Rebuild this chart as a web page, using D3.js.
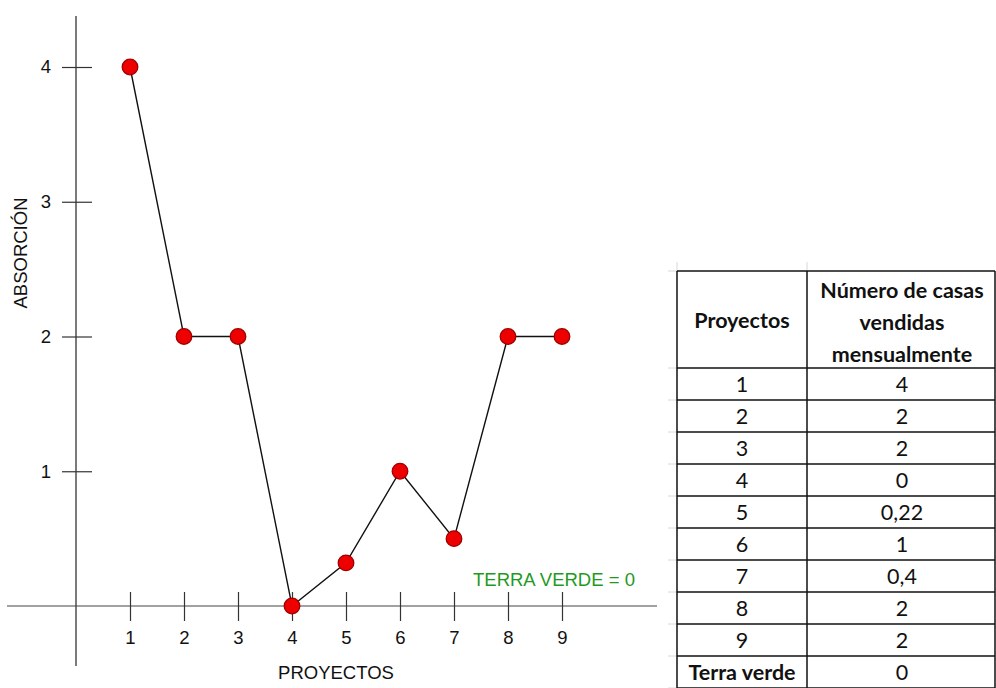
<!DOCTYPE html>
<html>
<head>
<meta charset="utf-8">
<script src="https://cdn.jsdelivr.net/npm/d3@7"></script>
<style>
  html, body { margin: 0; padding: 0; background: #fff; }
  svg { display: block; }
</style>
</head>
<body>
<svg id="chart" width="996" height="688"></svg>
<script>
// Projects on the x axis and their monthly absorption
const proyectos = [1, 2, 3, 4, 5, 6, 7, 8, 9];
const absorcion = [4, 2, 2, 0, 0.32, 1, 0.5, 2, 2];
const yTicks = [1, 2, 3, 4];
const xTicks = [1, 2, 3, 4, 5, 6, 7, 8, 9];

// Side table: rows of project name and houses sold per month
const tablaProyectos = ["1", "2", "3", "4", "5", "6", "7", "8", "9", "Terra verde"];
const tablaVentas = ["4", "2", "2", "0", "0,22", "1", "0,4", "2", "2", "0"];
const tablaEncabezado = ["Proyectos", ["Número de casas", "vendidas", "mensualmente"]];

const svg = d3.select("#chart");
const axisFont = "'Liberation Sans', Arial, sans-serif";
const tableFont = "Lato, 'Open Sans', sans-serif";

const x = d3.scaleLinear().domain([0, 9]).range([76, 562]);
const y = d3.scaleLinear().domain([0, 4]).range([606, 67]);

// Axis lines crossing at the origin
svg.append("line")
  .attr("x1", x(0)).attr("x2", x(0))
  .attr("y1", 16).attr("y2", 666)
  .attr("stroke", "#222").attr("stroke-width", 1.2);
svg.append("line")
  .attr("x1", 7).attr("x2", 657)
  .attr("y1", y(0)).attr("y2", y(0))
  .attr("stroke", "#444").attr("stroke-width", 1.2);

// Y axis ticks (crossing the axis line)
const gy = svg.append("g")
  .attr("transform", `translate(${x(0)},0)`)
  .call(d3.axisLeft(y).tickValues(yTicks).tickFormat(d3.format("d")).tickSize(14).tickPadding(12));
gy.select(".domain").remove();
gy.selectAll(".tick line").attr("x1", 16).attr("x2", -14).attr("stroke", "#333").attr("stroke-width", 1.2);
gy.selectAll(".tick text")
  .attr("x", -25)
  .attr("font-family", axisFont).attr("font-size", 18.5).attr("fill", "#111");

// X axis ticks (crossing the axis line)
const gx = svg.append("g")
  .attr("transform", `translate(0,${y(0)})`)
  .call(d3.axisBottom(x).tickValues(xTicks).tickFormat(d3.format("d")).tickSize(15));
gx.select(".domain").remove();
gx.selectAll(".tick line").attr("y1", -14).attr("y2", 15).attr("stroke", "#333").attr("stroke-width", 1.2);
gx.selectAll(".tick text")
  .attr("y", 25).attr("dy", "0.71em")
  .attr("font-family", axisFont).attr("font-size", 18.5).attr("fill", "#111");

// Axis titles
svg.append("text")
  .attr("x", 336).attr("y", 679)
  .attr("text-anchor", "middle")
  .attr("font-family", axisFont).attr("font-size", 18.5).attr("fill", "#111")
  .text("PROYECTOS");
svg.append("text")
  .attr("transform", "translate(27,253) rotate(-90)")
  .attr("text-anchor", "middle")
  .attr("font-family", axisFont).attr("font-size", 18.5).attr("fill", "#111")
  .text("ABSORCIÓN");

// Annotation for Terra Verde
svg.append("text")
  .attr("x", 473).attr("y", 586)
  .attr("font-family", axisFont).attr("font-size", 18.5).attr("fill", "#1f9a1f")
  .text("TERRA VERDE = 0");

// Line and markers
const pts = proyectos.map((p, i) => ({ p, v: absorcion[i] }));
svg.append("path")
  .datum(pts)
  .attr("fill", "none")
  .attr("stroke", "#111")
  .attr("stroke-width", 1.4)
  .attr("d", d3.line().x(d => x(d.p)).y(d => y(d.v)));
svg.selectAll("circle.pt")
  .data(pts)
  .join("circle")
  .attr("class", "pt")
  .attr("cx", d => x(d.p)).attr("cy", d => y(d.v))
  .attr("r", 7.8)
  .attr("fill", "#ee0000")
  .attr("stroke", "#a00000")
  .attr("stroke-width", 1.3);

// ----- Table -----
const tLeft = 677, tMid = 807, tRight = 995, tTop = 271, headBottom = 368, rowH = 32;
const rowLines = [tTop, headBottom].concat(tablaProyectos.map((_, i) => headBottom + rowH * (i + 1)));

// faint spreadsheet gridline stubs outside the table
const stubs = svg.append("g").attr("stroke", "#d8d8d8").attr("stroke-width", 1);
rowLines.forEach(ly => stubs.append("line").attr("x1", 668).attr("x2", tLeft).attr("y1", ly).attr("y2", ly));
[tLeft, tMid].forEach(lx => stubs.append("line").attr("x1", lx).attr("x2", lx).attr("y1", 262).attr("y2", tTop));

const tbl = svg.append("g").attr("stroke", "#111").attr("stroke-width", 1.5);
rowLines.forEach(ly => tbl.append("line").attr("x1", tLeft).attr("x2", tRight).attr("y1", ly).attr("y2", ly));
[tLeft, tMid, tRight].forEach(lx => tbl.append("line").attr("x1", lx).attr("x2", lx).attr("y1", tTop).attr("y2", 688));

const c1 = (tLeft + tMid) / 2, c2 = (tMid + tRight) / 2 + 1;
const tSize = 21.5;
svg.append("text")
  .attr("x", c1).attr("y", 328)
  .attr("text-anchor", "middle")
  .attr("font-family", tableFont).attr("font-weight", "bold").attr("font-size", tSize).attr("fill", "#111")
  .text(tablaEncabezado[0]);
svg.append("g").selectAll("text")
  .data(tablaEncabezado[1])
  .join("text")
  .attr("x", c2).attr("y", (d, i) => 298 + i * 32)
  .attr("text-anchor", "middle")
  .attr("font-family", tableFont).attr("font-weight", "bold").attr("font-size", tSize).attr("fill", "#111")
  .text(d => d);

svg.append("g").selectAll("text")
  .data(tablaProyectos)
  .join("text")
  .attr("x", c1).attr("y", (d, i) => headBottom + rowH * i + 24)
  .attr("text-anchor", "middle")
  .attr("font-family", tableFont)
  .attr("font-weight", (d, i) => i === tablaProyectos.length - 1 ? "bold" : "normal")
  .attr("font-size", tSize).attr("fill", "#111")
  .text(d => d);
svg.append("g").selectAll("text")
  .data(tablaVentas)
  .join("text")
  .attr("x", c2).attr("y", (d, i) => headBottom + rowH * i + 24)
  .attr("text-anchor", "middle")
  .attr("font-family", tableFont).attr("font-size", tSize).attr("fill", "#111")
  .text(d => d);
</script>
</body>
</html>
